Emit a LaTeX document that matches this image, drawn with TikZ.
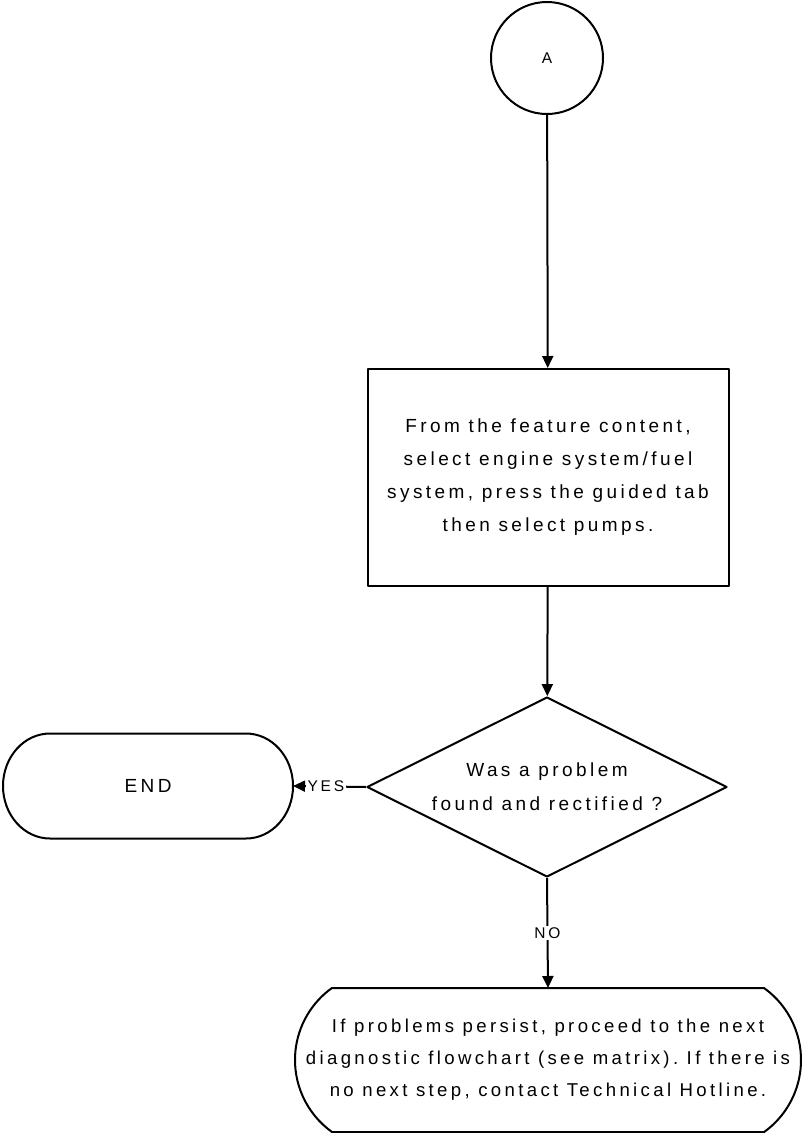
\documentclass[tikz,border=0pt]{standalone}
\usepackage{fontspec}
\setmainfont[LetterSpace=18]{Liberation Sans}
\frenchspacing
\usetikzlibrary{shapes.geometric,arrows.meta}

\begin{document}
\begin{tikzpicture}[x=1pt,y=1pt,line width=2pt,line join=round,
        flecha/.style={-{Triangle[length=12pt,width=11pt]}},
        texto/.style={font=\fontsize{19}{33}\selectfont,align=center},
        chico/.style={font=\fontsize{15.5}{16}\selectfont},
        etiqueta/.style={chico,fill=white,inner sep=2pt},
        terminal/.style={texto,outer sep=0pt}]
        % marco
        \useasboundingbox (0,0) rectangle (805,-1133);

        % nodos
        \node[draw,circle,minimum size=112pt,inner sep=0pt,chico] (conector) at (547,-58) {A};
        \node[draw,rectangle,minimum width=361pt,minimum height=217pt,texto] (paso) at (548,-477.5)
            {From the feature content,\\ select engine system/fuel\\ system, press the guided tab\\ then select pumps.};
        \node[draw,diamond,aspect=2,minimum width=360pt,minimum height=180pt,inner sep=0pt,texto,
              font=\fontsize{19}{34}\selectfont] (pregunta) at (547,-787)
            {Was a problem\\ found and rectified ?};
        \node[terminal,minimum width=290pt,minimum height=105pt] (fin) at (148,-786) {END};
        \node[terminal,minimum width=506pt,minimum height=144pt,font=\fontsize{18.6}{32}\selectfont] (ayuda) at (548,-1060)
            {If problems persist, proceed to the next\\ diagnostic flowchart (see matrix). If there is\\ no next step, contact Technical Hotline.};

        % bordes redondeados
        \draw ([xshift=47pt]fin.north west) -- ([xshift=-47pt]fin.north east)
            arc[start angle=90,end angle=-90,x radius=47pt,y radius=52.5pt]
            -- ([xshift=47pt]fin.south west)
            arc[start angle=270,end angle=90,x radius=47pt,y radius=52.5pt] -- cycle;
        \draw ([xshift=37pt]ayuda.north west) -- ([xshift=-37pt]ayuda.north east)
            arc[start angle=54.4,end angle=-54.4,radius=88.6pt]
            -- ([xshift=37pt]ayuda.south west)
            arc[start angle=234.4,end angle=125.6,radius=88.6pt] -- cycle;

        % flechas
        \draw[flecha] (conector) -- (paso);
        \draw[flecha] (paso) -- (pregunta);
        \draw[flecha] (pregunta.west) -- node[etiqueta,pos=0.55] {YES} (fin.east);
        \draw[flecha] (pregunta.south) -- node[etiqueta] {NO} (ayuda.north);
    \end{tikzpicture}
\end{document}
